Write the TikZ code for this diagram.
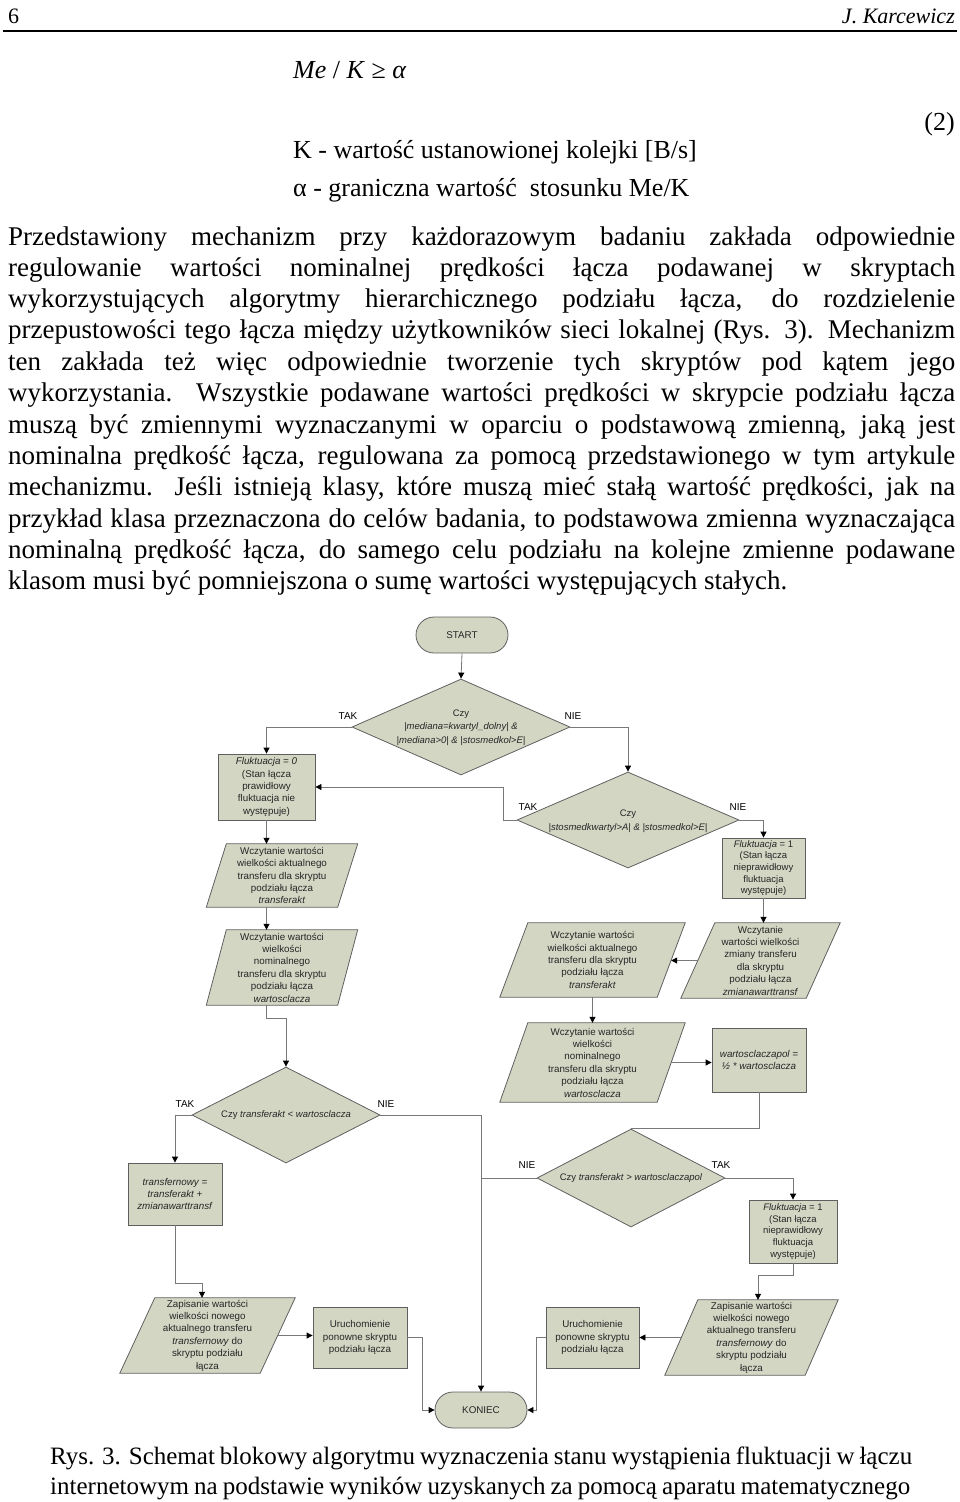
\documentclass[tikz,border=0pt]{standalone}
\usepackage{fontspec}
\setmainfont{Liberation Serif}
\newfontfamily\arialf{Liberation Sans}
\usetikzlibrary{shapes.geometric,shapes.misc,arrows.meta,calc}
\pgfdeclarelayer{background}
\pgfsetlayers{background,main}
\definecolor{boxfill}{RGB}{212,214,196}
\definecolor{boxline}{RGB}{95,95,95}
\definecolor{conn}{RGB}{120,120,120}
\tikzset{
 fc/.style={font=\arialf\fontsize{9.8}{12.4}\selectfont, text=black!85, align=center, inner sep=0pt},
 tfc/.style={font=\arialf\fontsize{9.5}{11.6}\selectfont},
 dfc/.style={font=\arialf\fontsize{9.5}{13.5}\selectfont, text=black!85, align=center, inner sep=0pt},
 boxs/.style={fc, rectangle, draw=boxline, fill=boxfill, line width=0.8pt},
 term/.style={fc, rounded rectangle, draw=boxline, fill=boxfill, line width=0.8pt},
 dia/.style={diamond, draw=boxline, fill=boxfill, line width=0.8pt, inner sep=0pt},
 paraT/.style={fc, rectangle},
 paraS/.style={draw=boxline, fill=boxfill, line width=0.8pt},
 arr/.style={draw=conn, line width=0.8pt, -{Triangle[length=6pt,width=6pt,color=black]}},
 ln/.style={draw=conn, line width=0.8pt},
 lab/.style={font=\arialf\fontsize{10}{12}\selectfont, inner sep=0pt},
 body/.style={font=\fontsize{27}{31}\selectfont, inner sep=0pt, anchor=base west},
 capt/.style={font=\fontsize{25}{30}\selectfont, inner sep=0pt, anchor=base west},
 eqt/.style={font=\fontsize{26}{30}\selectfont, inner sep=0pt, anchor=base west},
}
\newcommand\ParaNode[6]{%
 \node[paraT, minimum width=#3, minimum height=#4] (#1) at (#2) {#6};
 \begin{pgfonlayer}{background}
 \path[paraS] ($(#1.north west)+(#5,0)$) -- ($(#1.north east)+(#5,0)$) -- ($(#1.south east)+(-#5,0)$) -- ($(#1.south west)+(-#5,0)$) -- cycle;
 \end{pgfonlayer}}
\begin{document}
\begin{tikzpicture}[x=1pt,y=-1pt]
\useasboundingbox (0,0) rectangle (960,1502);
% header
\node[font=\fontsize{22}{26}\selectfont, inner sep=0pt, anchor=base west] (pg) at (8,23) {6};
\node[font=\fontsize{22}{26}\selectfont\itshape, inner sep=0pt, anchor=base east] (au) at (955,23) {J. Karcewicz};
\coordinate (rl) at (3,31);
\coordinate (rr) at (957,31);
\draw[line width=1.6pt] (rl) -- (rr);
% equation
\node[eqt] (eq) at (293,78) {\textit{Me} / \textit{K} ≥ \textit{α}};
\node[eqt, anchor=base east] (eqn) at (955,130) {(2)};
\node[eqt] (e1) at (293,158) {K - wartość ustanowionej kolejki [B/s]};
\node[eqt] (e2) at (293,196) {α - graniczna wartość\ \ stosunku Me/K};
% paragraph
\node[body] (t1) at (8,245) {\makebox[947pt][s]{Przedstawiony mechanizm przy każdorazowym badaniu zakłada odpowiednie}};
\node[body] (t2) at (8,276) {\makebox[947pt][s]{regulowanie wartości nominalnej prędkości łącza podawanej w skryptach}};
\node[body] (t3) at (8,307) {\makebox[947pt][s]{wykorzystujących algorytmy hierarchicznego podziału łącza, do rozdzielenie}};
\node[body] (t4) at (8,338) {\makebox[947pt][s]{przepustowości tego łącza między użytkowników sieci lokalnej (Rys. 3). Mechanizm}};
\node[body] (t5) at (8,370) {\makebox[947pt][s]{ten zakłada też więc odpowiednie tworzenie tych skryptów pod kątem jego}};
\node[body] (t6) at (8,401) {\makebox[947pt][s]{wykorzystania. Wszystkie podawane wartości prędkości w skrypcie podziału łącza}};
\node[body] (t7) at (8,433) {\makebox[947pt][s]{muszą być zmiennymi wyznaczanymi w oparciu o podstawową zmienną, jaką jest}};
\node[body] (t8) at (8,464) {\makebox[947pt][s]{nominalna prędkość łącza, regulowana za pomocą przedstawionego w tym artykule}};
\node[body] (t9) at (8,495) {\makebox[947pt][s]{mechanizmu. Jeśli istnieją klasy, które muszą mieć stałą wartość prędkości, jak na}};
\node[body] (t10) at (8,527) {\makebox[947pt][s]{przykład klasa przeznaczona do celów badania, to podstawowa zmienna wyznaczająca}};
\node[body] (t11) at (8,558) {\makebox[947pt][s]{nominalną prędkość łącza, do samego celu podziału na kolejne zmienne podawane}};
\node[body] (t12) at (8,589) {klasom musi być pomniejszona o sumę wartości występujących stałych.};
% caption
\node[capt] (c1) at (50,1464) {\makebox[862pt][s]{Rys. 3. Schemat blokowy algorytmu wyznaczenia stanu wystąpienia fluktuacji w łączu}};
\node[capt] (c2) at (50,1494) {\makebox[860pt][s]{internetowym na podstawie wyników uzyskanych za pomocą aparatu matematycznego}};

% ---- flowchart ----
\node[term, minimum width=92pt, minimum height=36pt] (start) at (462,635) {START};
\node[dia, minimum width=218pt, minimum height=96pt] (D1) at (461,727) {};
\node[dfc] (D1t) at (461,727.5) {Czy\\\textit{|mediana=kwartyl\_dolny| \&}\\\textit{|mediana>0| \& |stosmedkol>E|}};
\node[dia, minimum width=222pt, minimum height=96pt] (D2) at (628,820) {};
\node[dfc] (D2t) at (628,821) {Czy\\\textit{|stosmedkwartyl>A| \& |stosmedkol>E|}};
\node[boxs, minimum width=97pt, minimum height=66pt] (F0) at (266.5,787) {\textit{Fluktuacja = 0}\\(Stan łącza\\prawidłowy\\fluktuacja nie\\występuje)};
\node[boxs, tfc, minimum width=83pt, minimum height=60pt] (F1) at (763.5,868) {\textit{Fluktuacja} = 1\\(Stan łącza\\nieprawidłowy\\fluktuacja\\występuje)};
\ParaNode{L1}{282,875.5}{131pt}{63pt}{10}{Wczytanie wartości\\wielkości aktualnego\\transferu dla skryptu\\podziału łącza\\\textit{transferakt}}
\ParaNode{L2}{282,967.5}{131pt}{75pt}{10}{Wczytanie wartości\\wielkości\\nominalnego\\transferu dla skryptu\\podziału łącza\\\textit{wartosclacza}}
\ParaNode{R1}{760.5,960.5}{125pt}{75pt}{17}{Wczytanie\\wartości wielkości\\zmiany transferu\\dla skryptu\\podziału łącza\\\textit{zmianawarttransf}}
\ParaNode{C1}{592.5,960}{157pt}{74pt}{14}{Wczytanie wartości\\wielkości aktualnego\\transferu dla skryptu\\podziału łącza\\\textit{transferakt}}
\ParaNode{C2}{592.5,1062.5}{157pt}{79pt}{14}{Wczytanie wartości\\wielkości\\nominalnego\\transferu dla skryptu\\podziału łącza\\\textit{wartosclacza}}
\node[boxs, minimum width=94pt, minimum height=64pt] (WZ) at (759,1060) {\textit{wartosclaczapol =}\\\textit{½ * wartosclacza}};
\node[dia, minimum width=188pt, minimum height=96pt] (D4) at (286,1115) {};
\node[dfc] (D4t) at (286,1115) {Czy \textit{transferakt < wartosclacza}};
\node[dia, minimum width=188pt, minimum height=98pt] (D3) at (631,1178) {};
\node[dfc] (D3t) at (631,1178) {Czy \textit{transferakt > wartosclaczapol}};
\node[boxs, minimum width=94pt, minimum height=62pt] (TN) at (175,1194) {\textit{transfernowy =}\\\textit{transferakt +}\\\textit{zmianawarttransf}};
\node[boxs, tfc, minimum width=88pt, minimum height=63pt] (F1b) at (793,1231.5) {\textit{Fluktuacja} = 1\\(Stan łącza\\nieprawidłowy\\fluktuacja\\występuje)};
\ParaNode{L3}{207.5,1335.5}{140pt}{75pt}{17.5}{Zapisanie wartości\\wielkości nowego\\aktualnego transferu\\\textit{transfernowy} do\\skryptu podziału\\łącza}
\ParaNode{R2}{751.5,1337.5}{140pt}{75pt}{16.5}{Zapisanie wartości\\wielkości nowego\\aktualnego transferu\\\textit{transfernowy} do\\skryptu podziału\\łącza}
\node[boxs, minimum width=94pt, minimum height=61pt] (U1) at (360,1337.5) {Uruchomienie\\ponowne skryptu\\podziału łącza};
\node[boxs, minimum width=93pt, minimum height=61pt] (U2) at (592.5,1337.5) {Uruchomienie\\ponowne skryptu\\podziału łącza};
\node[term, minimum width=92pt, minimum height=36pt] (end) at (481,1410) {KONIEC};

% labels
\node[lab] (l1t) at (348,716) {TAK};
\node[lab] (l1n) at (573,716) {NIE};
\node[lab] (l2t) at (528,807) {TAK};
\node[lab] (l2n) at (738,807) {NIE};
\node[lab] (l4t) at (185,1104) {TAK};
\node[lab] (l4n) at (386,1104) {NIE};
\node[lab] (l3n) at (527,1165) {NIE};
\node[lab] (l3t) at (721,1165) {TAK};

% connectors
\draw[arr] (start.south) -- (D1.north);
\draw[arr] (D1.west) -| (F0.north);
\draw[arr] (D1.east) -| (D2.north);
\draw[arr] (D2.west) -- ++(-13,0) |- (F0.east);
\draw[arr] (D2.east) -| (F1.north);
\draw[arr] (F1.south) -- (F1.south |- R1.north);
\draw[arr] (R1.west) -- (R1.west -| C1.east);
\draw[arr] (C1.south) -- (C2.north);
\draw[arr] (C2.east) -- (C2.east -| WZ.west);
\draw[ln] (WZ.south) -- ++(0,36) -| (D3.north);
\draw[arr] (F0.south) -- (F0.south |- L1.north);
\draw[arr] (F0.south |- L1.south) -- (F0.south |- L2.north);
\draw[arr] (F0.south |- L2.south) -- ++(0,13) -| (D4.north);
\draw[arr] (D4.west) -| (TN.north);
\draw[arr] (TN.south) -- ++(0,58) -| ($(L3.north)+(-5.5,0)$);
\draw[arr] (D4.east) -| (end.north);
\draw[ln] (D3.west) -- (D3.west -| end.north);
\draw[arr] (D3.east) -| (F1b.north);
\draw[arr] (F1b.south) -- ++(0,12) -| ($(R2.north)+(6.5,0)$);
\draw[arr] (L3.east) -- (L3.east -| U1.west);
\draw[arr] (R2.west) -- (R2.west -| U2.east);
\draw[arr] (U1.east) -- ++(15,0) |- (end.west);
\draw[arr] (U2.west) -- ++(-9,0) |- (end.east);
\end{tikzpicture}
\end{document}
